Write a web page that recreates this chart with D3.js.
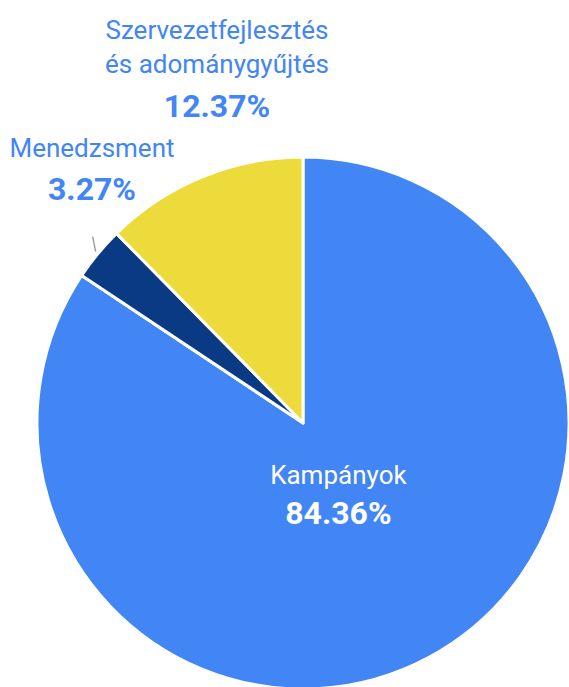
<!DOCTYPE html>
<html>
<head>
<meta charset="utf-8">
<script src="https://cdn.jsdelivr.net/npm/d3@7"></script>
<style>
  html, body { margin: 0; padding: 0; background: #fff; }
  svg { display: block; font-family: Roboto, "Noto Sans", sans-serif; }
</style>
</head>
<body>
<div id="chart"></div>
<script>
// slice data, clockwise from 12 o'clock
const categories = ["Kampányok", "Menedzsment", "Szervezetfejlesztés és adománygyűjtés"];
const labelLines = [["Kampányok"], ["Menedzsment"], ["Szervezetfejlesztés", "és adománygyűjtés"]];
const shares = [84.36, 3.27, 12.37];
const colors = ["#4285f4", "#0b3a84", "#ecdb3b"];

const width = 569, height = 687;
const cx = 303, cy = 423, radius = 266;

const svg = d3.select("#chart").append("svg")
    .attr("width", width)
    .attr("height", height);

const pie = d3.pie().sort(null).value(d => d.value);
const arcs = pie(categories.map((c, i) => ({ name: c, value: shares[i], lines: labelLines[i], color: colors[i] })));

const arc = d3.arc().innerRadius(0).outerRadius(radius);

const g = svg.append("g").attr("transform", `translate(${cx},${cy})`);

g.selectAll("path")
    .data(arcs)
    .enter()
    .append("path")
    .attr("d", arc)
    .attr("fill", d => d.data.color)
    .attr("stroke", "#fff")
    .attr("stroke-width", 3)
    .attr("stroke-linejoin", "round");

const fmt = v => v.toFixed(2) + "%";
const mid = d => (d.startAngle + d.endAngle) / 2;

// inside label for the big slice
const inside = arcs[0];
const inR = 75;
const ip = [Math.sin(mid(inside)) * inR, -Math.cos(mid(inside)) * inR];
const inText = g.append("text")
    .attr("text-anchor", "middle")
    .attr("fill", "#fff");
inText.append("tspan")
    .attr("x", ip[0]).attr("y", ip[1] - 5)
    .style("font-size", "26px")
    .text(inside.data.lines[0]);
inText.append("tspan")
    .attr("x", ip[0]).attr("y", ip[1] + 35)
    .style("font-size", "32px").style("font-weight", "bold")
    .text(fmt(inside.data.value));

// leader for Menedzsment: starts just outside the rim, goes up
const men = arcs[1];
const a = mid(men);
const lx = Math.sin(a) * (radius + 3), ly = -Math.cos(a) * (radius + 3);
g.append("line")
    .attr("x1", lx).attr("y1", ly)
    .attr("x2", lx - 3).attr("y2", ly - 15)
    .attr("stroke", "#a0a0a0")
    .attr("stroke-width", 1.5);

// outside labels (positions in page coords)
const outside = [
    { d: arcs[1], x: 92, y: 157, pctY: 200 },
    { d: arcs[2], x: 217, y: 39, pctY: 117 }
];
outside.forEach(o => {
    const t = svg.append("text")
        .attr("text-anchor", "middle")
        .attr("fill", "#4285f4");
    o.d.data.lines.forEach((ln, i) => {
        t.append("tspan")
            .attr("x", o.x).attr("y", o.y + i * 34)
            .style("font-size", "26px")
            .text(ln);
    });
    t.append("tspan")
        .attr("x", o.x).attr("y", o.pctY)
        .style("font-size", "32px").style("font-weight", "bold")
        .text(fmt(o.d.data.value));
});
</script>
</body>
</html>
